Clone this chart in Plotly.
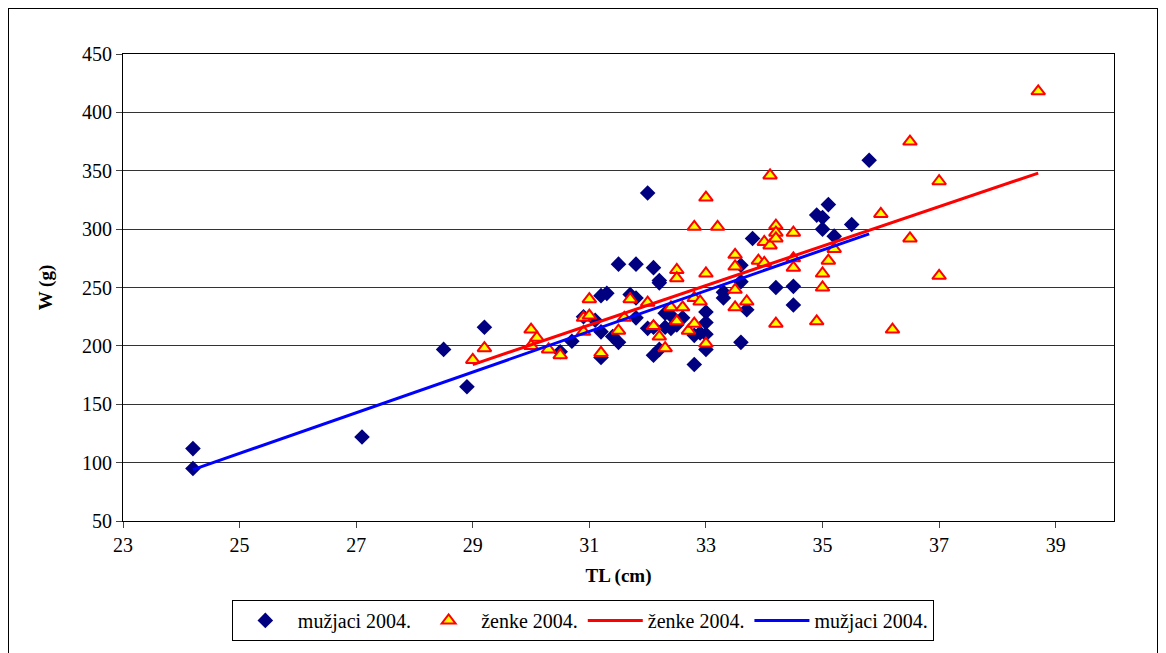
import plotly.graph_objects as go

# Data: males (mužjaci) 2004
male_tl = [24.2, 24.2, 27.1, 28.5, 28.9, 29.2, 30.5, 30.7, 30.9, 31.1, 31.2, 31.3, 31.2, 31.4, 31.5,
           31.5, 31.8, 32.1, 32.2, 32.2, 31.7, 31.8, 31.8, 31.2, 32.0, 32.0, 32.1, 32.1, 32.2, 32.3,
           32.3, 32.4, 32.4, 32.5, 32.6, 32.8, 32.9, 32.8, 33.0, 33.0, 33.0, 33.0, 33.3, 33.3, 33.6,
           33.6, 33.7, 33.6, 33.8, 34.2, 34.5, 34.5, 34.9, 35.0, 35.1, 35.0, 35.2, 35.5, 35.8]
male_w = [112, 95, 122, 197, 165, 216, 195, 204, 225, 222, 243, 245, 212, 208, 203,
          270, 270, 267, 256, 254, 244, 241, 224, 190, 331, 215, 216, 192, 197, 228,
          216, 226, 215, 218, 224, 209, 211, 184, 229, 220, 210, 197, 246, 241, 269,
          255, 231, 203, 292, 250, 251, 235, 312, 310, 321, 300, 294, 304, 359]

# Data: females (ženke) 2004
female_tl = [29.0, 29.2, 30.0, 30.1, 30.0, 30.3, 30.5, 30.9, 30.9, 31.0, 31.0, 31.2, 31.5, 31.6,
             31.7, 32.0, 32.1, 32.2, 32.3, 32.4, 32.5, 32.5, 32.6, 32.5, 32.7, 32.8, 32.8, 32.9,
             32.8, 33.0, 33.0, 33.0, 33.2, 33.5, 33.5, 33.5, 33.5, 33.7, 33.9, 34.0, 34.0, 34.1,
             34.1, 34.2, 34.2, 34.2, 34.2, 34.5, 34.5, 34.5, 34.9, 35.0, 35.0, 35.1, 35.2, 36.0,
             36.2, 36.5, 36.5, 37.0, 37.0, 38.7]
female_w = [188, 198, 214, 207, 200, 197, 192, 224, 212, 240, 226, 194, 213, 224,
            240, 237, 217, 208, 198, 233, 265, 258, 233, 221, 213, 219, 241, 238,
            302, 327, 262, 202, 302, 278, 268, 248, 233, 238, 273, 271, 289, 286,
            346, 303, 297, 292, 219, 297, 275, 267, 221, 262, 250, 273, 283, 313,
            214, 375, 292, 341, 260, 418]

# Trend lines (linear fits as drawn in the chart)
trend_female_tl = [29.0, 38.7]
trend_female_w = [184, 348]
trend_male_tl = [24.2, 35.8]
trend_male_w = [94, 296]

x_ticks = [23, 25, 27, 29, 31, 33, 35, 37, 39]
y_ticks = [50, 100, 150, 200, 250, 300, 350, 400, 450]

FONT = "Liberation Serif, DejaVu Serif, serif"

fig = go.Figure()
fig.add_trace(go.Scatter(x=male_tl, y=male_w, mode="markers", name="mužjaci 2004.",
                         marker=dict(symbol="diamond", size=12, color="#000080",
                                     line=dict(width=0))))
fig.add_trace(go.Scatter(x=female_tl, y=female_w, mode="markers", name="ženke 2004.",
                         marker=dict(symbol="triangle-up", size=12, color="#FFFF00",
                                     line=dict(width=2, color="#FF0000"))))
fig.add_trace(go.Scatter(x=trend_female_tl, y=trend_female_w, mode="lines", name="ženke 2004.",
                         line=dict(color="#FF0000", width=3)))
fig.add_trace(go.Scatter(x=trend_male_tl, y=trend_male_w, mode="lines", name="mužjaci 2004.",
                         line=dict(color="#0000FF", width=3)))

W, H = 1150, 653
L, T = 115, 46
R = W - 1106
B = H - 513
pw, ph = W - L - R, H - T - B

def px2paper(px, py):
    return (px - L) / pw, (H - B - py) / ph

x0, y0 = px2paper(0, 653)
x1, y1 = px2paper(1150, 0)

fig.update_layout(
    width=W, height=H,
    margin=dict(l=L, r=R, t=T, b=B),
    paper_bgcolor="white", plot_bgcolor="white",
    font=dict(family=FONT, size=18, color="black"),
    showlegend=True,
    legend=dict(orientation="h", x=0.464, y=-0.169, xanchor="center", yanchor="top",
                bordercolor="black", borderwidth=1, bgcolor="white",
                font=dict(family=FONT, size=20), itemwidth=55, tracegroupgap=0),
    xaxis=dict(range=[23, 40], tickvals=x_ticks, ticks="outside", ticklen=6,
               showgrid=False, zeroline=False, showline=True, linecolor="black",
               linewidth=1, mirror=True,
               title=dict(text="<b>TL (cm)</b>", font=dict(family=FONT, size=19), standoff=13),
               tickfont=dict(family=FONT, size=20)),
    yaxis=dict(range=[50, 450], tickvals=y_ticks, ticks="outside", ticklen=6,
               showgrid=True, gridcolor="#333333", gridwidth=1, zeroline=False,
               showline=True, linecolor="black", linewidth=1, mirror=True,
               title=dict(text="<b>W (g)</b>", font=dict(family=FONT, size=19), standoff=24),
               tickfont=dict(family=FONT, size=20)),
    shapes=[dict(type="rect", xref="paper", yref="paper", x0=x0, y0=y0, x1=x1, y1=y1,
                 line=dict(color="black", width=2), fillcolor="rgba(0,0,0,0)", layer="below")],
)

fig.write_html("out.html")
